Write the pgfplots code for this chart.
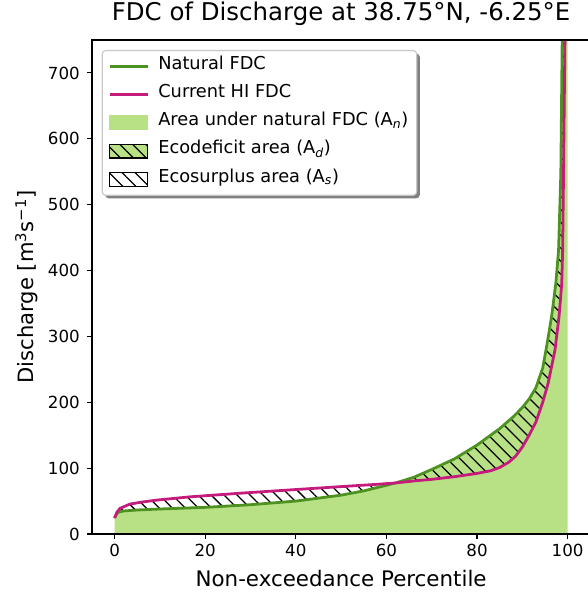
\documentclass[border=0pt]{standalone}
\usepackage{fontspec}
\setmainfont{DejaVu Sans}
\usepackage{pgfplots}
\usepackage{pgfplotstable}
\pgfplotsset{compat=1.18}
\usepgfplotslibrary{fillbetween}
\usetikzlibrary{patterns.meta,shadows}
\definecolor{natgreen}{HTML}{4D9221}
\definecolor{curpink}{HTML}{C51B7D}
\definecolor{lightgreen}{HTML}{B8E186}
\makeatletter
\tikzset{nopreaction/.code={\let\tikz@preactions\pgfutil@empty}}
\makeatother
\tikzset{hatch/.style={pattern={Lines[angle=-45,distance=6.6bp,line width=0.9bp]}, pattern color=black}}
\pgfplotsset{
  linelegend/.style={legend image code/.code={\draw[nopreaction,##1] (0bp,0bp) -- (27.4bp,0bp);}},
  arealegend/.style={legend image code/.code={\fill[nopreaction,sharp corners,lightgreen] (0bp,-5bp) rectangle (27.4bp,5bp);}},
  deficitlegend/.style={legend image code/.code={\fill[nopreaction,sharp corners,lightgreen] (0bp,-5bp) rectangle (27.4bp,5bp); \path[nopreaction,sharp corners,hatch] (0bp,-5bp) rectangle (27.4bp,5bp);}},
  surpluslegend/.style={legend image code/.code={\path[nopreaction,sharp corners,hatch] (0bp,-5bp) rectangle (27.4bp,5bp); \draw[nopreaction,sharp corners,black,line width=0.8bp] (0bp,-5bp) rectangle (27.4bp,5bp);}},
}
\pgfplotstableread{
x y
0 25
0.5 31
1 33.5
2 35
5 36.5
10 38
20 40.5
30 44.5
40 50
50 59
55 65.5
60 74
62 77.5
66 86
70 98
75 114
80 135
85 160
88 178
90 192
91.5 205
93 222
94.5 252
95.5 290
96.5 332
97.4 381
98 431
98.5 548
98.8 750
99.5 1100
100 1500
}\natural
\pgfplotstableread{
x y
0 24
0.5 33
1.2 39
3.4 45.5
6 48.5
9.3 51.5
16.7 56.5
27.8 62
38.8 67
50 72
58 75.5
62 77.5
66 80.5
70 83
75 87
80 92
83 96
85 101
87 109
88.5 118
90 132
91.5 150
93 170
94.5 200
95.7 229
97.2 279
98.1 330
98.7 380
98.9 431
99.1 550
99.4 750
100 1200
}\current
\begin{document}
\begin{tikzpicture}
\begin{axis}[
  at={(0,0)}, anchor=south west,
  scale only axis, width=358.8bp, height=355.7bp,
  xmin=-5, xmax=105, ymin=0, ymax=750,
  xtick={0,20,...,100}, ytick={0,100,...,700},
  xtick pos=bottom, ytick pos=left,
  tick align=outside, major tick length=3.6bp,
  tick style={black, line width=0.8bp},
  axis line style={black, line width=0.8bp},
  axis on top,
  /pgf/number format/assume math mode=true,
  ticklabel style={font=\fontsize{12bp}{14bp}\selectfont},
  yticklabel style={inner sep=0pt, xshift=-5bp},
  xticklabel style={inner sep=0pt, yshift=-3.5bp},
  title={FDC of Discharge at 38.75°N, -6.25°E},
  title style={at={(rel axis cs:0.5,1.0236)}, anchor=base, inner sep=0pt, font=\fontsize{17.6bp}{20bp}\selectfont},
  xlabel={Non-exceedance Percentile},
  xlabel style={at={(rel axis cs:0.5,-0.1066)}, anchor=base, inner sep=0pt, font=\fontsize{15.4bp}{18bp}\selectfont},
  ylabel={Discharge [m\textsuperscript{3}s\textsuperscript{−1}]},
  ylabel style={at={(rel axis cs:-0.1178,0.5)}, anchor=base, inner sep=0pt, font=\fontsize{15.2bp}{18bp}\selectfont},
  legend cell align=left,
  legend style={at={(rel axis cs:0.0195,0.9798)}, anchor=north west,
    draw=black!22, line width=0.8bp, rounded corners=2.5bp, fill=white,
    drop shadow={shadow xshift=2.2bp, shadow yshift=-2.2bp, fill=black!50, opacity=1},
    font=\fontsize{12.8bp}{15bp}\selectfont, inner sep=3bp, inner xsep=4.5bp, row sep=3.3bp, column sep=5bp,
    nodes={inner sep=1.5bp, text height=9bp, text depth=5bp}},
]
\addlegendimage{linelegend, natgreen, line width=2bp}
\addlegendimage{linelegend, curpink, line width=2bp}
\addlegendimage{arealegend}
\addlegendimage{deficitlegend}
\addlegendimage{surpluslegend}
\legend{Natural FDC, Current HI FDC, Area under natural FDC (A\textsubscript{\itshape n}), Ecodeficit area (A\textsubscript{\itshape d}), Ecosurplus area (A\textsubscript{\itshape s})}
\addplot[forget plot, draw=none, name path=bottom] coordinates {(0,0) (100,0)};
\addplot[forget plot, draw=none, name path=nat] table[x=x,y=y] {\natural};
\addplot[forget plot, draw=none, name path=cur] table[x=x,y=y] {\current};
\addplot[forget plot, fill=lightgreen] fill between[of=nat and bottom];
\addplot[forget plot, hatch] fill between[of=nat and cur];
\addplot[forget plot, natgreen, line width=2bp] table[x=x,y=y] {\natural};
\addplot[forget plot, curpink, line width=2bp] table[x=x,y=y] {\current};
\end{axis}
\pgfresetboundingbox
\useasboundingbox (-66.2bp,-43.9bp) rectangle (357.1bp,384.5bp);
\end{tikzpicture}
\end{document}
